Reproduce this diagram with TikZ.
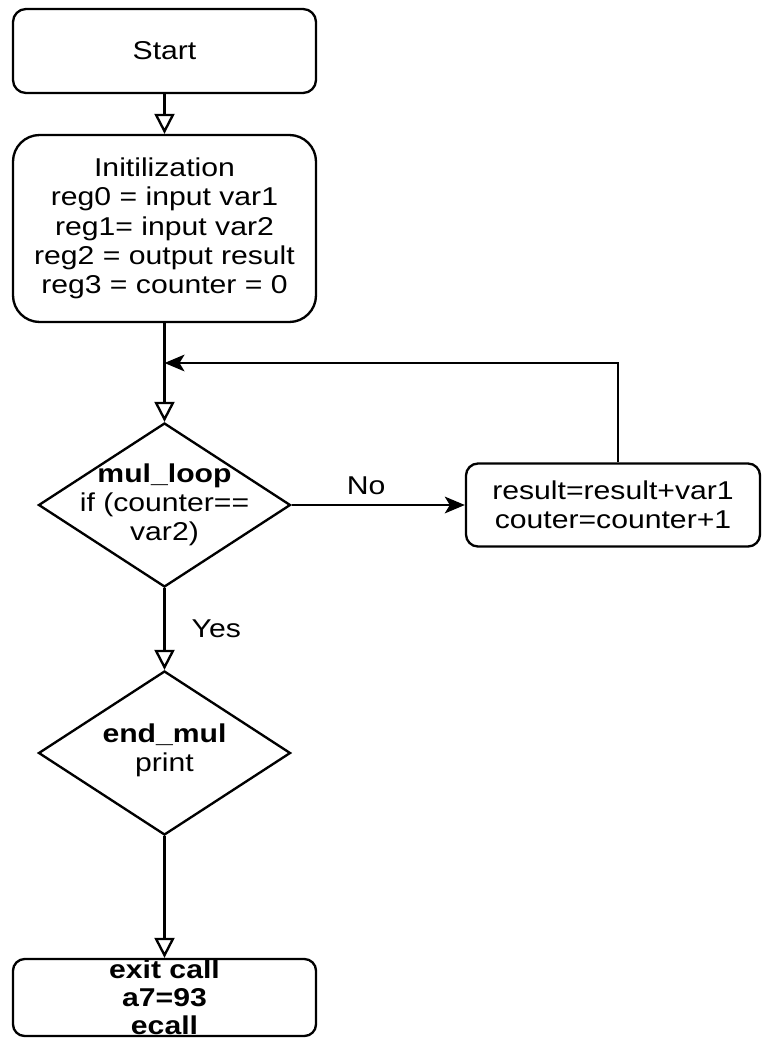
\documentclass[tikz,border=0pt]{standalone}
\usepackage{fontspec}
\setmainfont{Liberation Sans}[FakeStretch=1.17]
\usepackage{tikz}
\usetikzlibrary{arrows.meta,shapes.geometric}

\begin{document}
\begin{tikzpicture}[x=0.03cm,y=-0.03cm,
    font=\fontsize{22}{25}\selectfont,
    box/.style={draw,line width=2pt,align=center,inner sep=0pt},
    decision/.style={draw,diamond,line width=2pt,inner sep=0pt,
      minimum width=7.56cm,minimum height=4.92cm},
    openarr/.style={line width=2pt,-{Triangle[open,length=0.6cm,width=0.6cm]}},
    fillarr/.style={line width=2pt,-{Stealth[length=0.6cm,width=0.5cm,inset=0.15cm]}}]
  \useasboundingbox (0,0) rectangle (762,1038);
  % left column
  \node[box,minimum width=9.09cm,minimum height=2.52cm,rounded corners=0.39cm]
    (start) at (164.5,51) {Start};
  \node[box,minimum width=9.09cm,minimum height=5.61cm,rounded corners=0.8cm]
    (init) at (164.5,228.5)
    {Initilization\\reg0 = input var1\\reg1= input var2\\reg2 = output result\\reg3 = counter = 0};
  \node[decision,label={[align=center]center:{\textbf{mul\_loop}\\if (counter==\\var2)}}]
    (loop) at (164.5,505) {};
  \node[decision,label={[align=center,yshift=0.08cm]center:{\bfseries end\_mul\\print}}]
    (endm) at (164.5,753) {};
  \node[box,minimum width=9.09cm,minimum height=2.31cm,rounded corners=0.35cm,
    label={[align=center,font=\fontsize{22}{24}\selectfont\bfseries]center:{exit call\\a7=93\\ecall}}]
    (exit) at (164.5,997.5) {};
  % loop body
  \node[box,minimum width=8.82cm,minimum height=2.49cm,rounded corners=0.36cm]
    (proc) at (613,505) {result=result+var1\\couter=counter+1};
  \coordinate (join) at (164.5,363);
  % connectors
  \draw[openarr] (start) -- (init);
  \draw[openarr] (init) -- (loop);
  \draw[fillarr] (loop) -- node[pos=0.43,above=0.27cm,inner sep=0pt] {No} (proc);
  \draw[fillarr] ([xshift=0.15cm]proc.north) |- (join);
  \draw[openarr] (loop) -- node[midway,right=0.78cm,inner sep=0pt] {Yes} (endm);
  \draw[openarr] (endm) -- (exit);
\end{tikzpicture}
\end{document}
